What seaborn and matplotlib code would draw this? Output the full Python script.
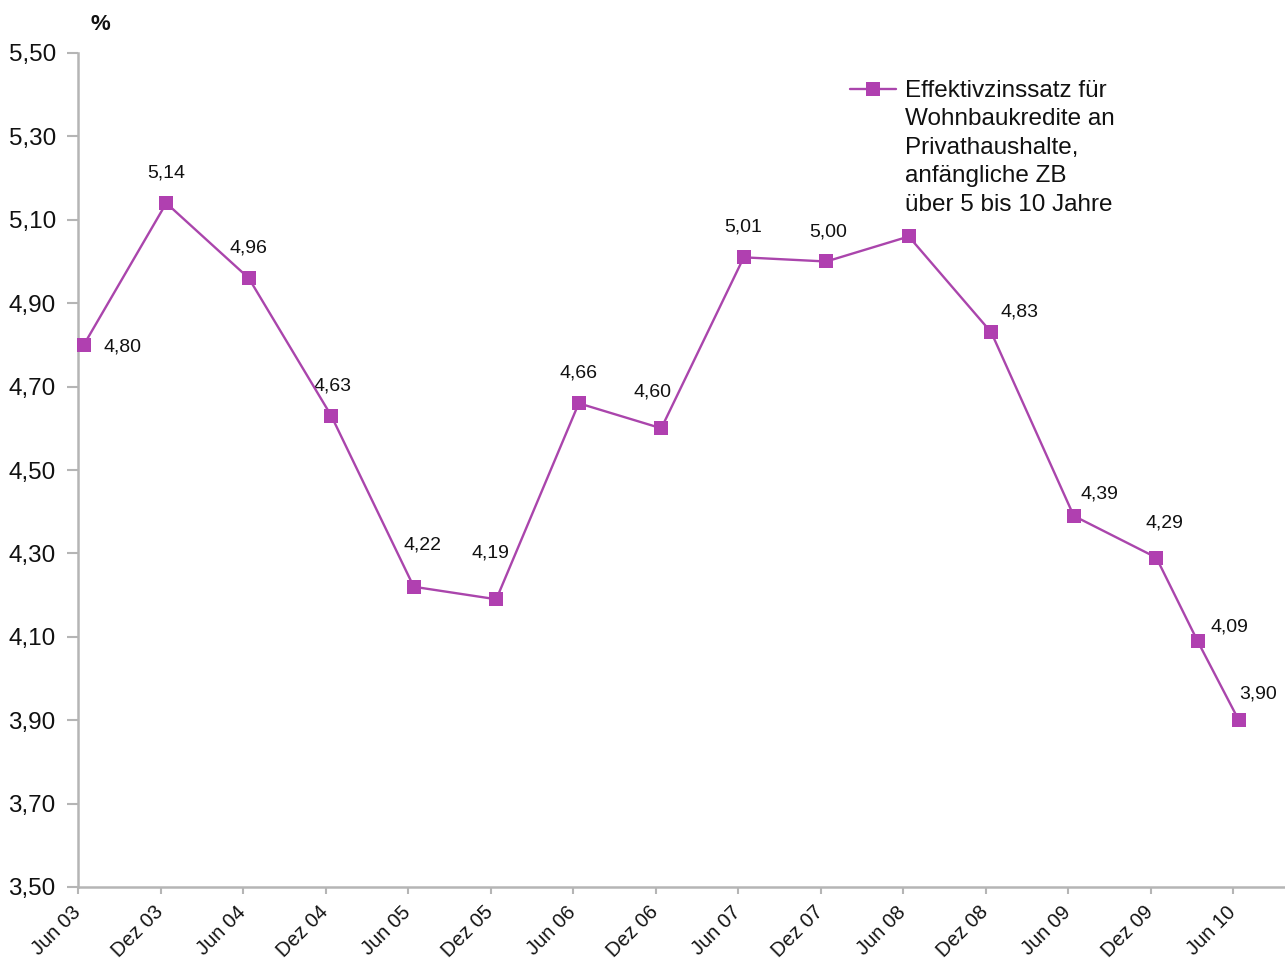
import numpy as np
import pandas as pd
import matplotlib
matplotlib.use("Agg")
import matplotlib.pyplot as plt
import seaborn as sns

# Effective interest rate for housing loans to households, initial fixation 5-10 years
periods = ["Jun 03", "Dez 03", "Jun 04", "Dez 04", "Jun 05", "Dez 05", "Jun 06",
           "Dez 06", "Jun 07", "Dez 07", "Jun 08", "Dez 08", "Jun 09", "Dez 09",
           "Mär 10", "Jun 10"]
# position on the half-year axis (Mär 10 lies between Dez 09 and Jun 10)
positions = [0, 1, 2, 3, 4, 5, 6, 7, 8, 9, 10, 11, 12, 13, 13.5, 14]
rates = [4.80, 5.14, 4.96, 4.63, 4.22, 4.19, 4.66, 4.60, 5.01, 5.00, 5.06,
         4.83, 4.39, 4.29, 4.09, 3.90]
labelled = [True, True, True, True, True, True, True, True, True, True, False,
            True, True, True, True, True]
tick_labels = ["Jun 03", "Dez 03", "Jun 04", "Dez 04", "Jun 05", "Dez 05",
               "Jun 06", "Dez 06", "Jun 07", "Dez 07", "Jun 08", "Dez 08",
               "Jun 09", "Dez 09", "Jun 10"]
y_ticks = [3.50, 3.70, 3.90, 4.10, 4.30, 4.50, 4.70, 4.90, 5.10, 5.30, 5.50]
series_name = ("Effektivzinssatz für\nWohnbaukredite an\nPrivathaushalte,\n"
               "anfängliche ZB\nüber 5 bis 10 Jahre")

# label offsets in pixels (dx, dy) relative to each marker
label_offsets = [(39, -2), (0, 30), (0, 30), (1, 30), (9, 42), (-6, 46),
                 (0, 30), (-9, 36), (-1, 30), (2, 29), (0, 0), (28, 20),
                 (26, 22), (8, 35), (32, 14), (19, 26)]

df = pd.DataFrame({"x": positions, "rate": rates})

sns.set_style("white")
plt.rcParams["font.family"] = ["Liberation Sans", "DejaVu Sans"]

fig = plt.figure(figsize=(12.85, 9.59), dpi=100)
ax = fig.add_axes([78 / 1285, 1 - 887 / 959, 1 - 78 / 1285, (887 - 53) / 959])

purple = "#AA45AC"
tick_shift = -0.07
text_color = "#111111"

sns.lineplot(data=df, x="x", y="rate", ax=ax, color=purple, linewidth=1.7,
             marker="s", markersize=10, markeredgewidth=0,
             markerfacecolor="#B040B0", label=series_name, clip_on=False,
             zorder=5)

for x, v, show, (dx, dy) in zip(positions, rates, labelled, label_offsets):
    if not show:
        continue
    ax.annotate(f"{v:.2f}".replace(".", ","), (x, v), xytext=(dx, dy),
                textcoords="offset pixels", ha="center", va="center",
                fontsize=14, color=text_color)

ax.set_xlim(tick_shift, tick_shift + (1285 - 78) / 82.5)
ax.set_ylim(3.50, 5.50)
ax.set_xticks([i + tick_shift for i in range(len(tick_labels))])
ax.set_xticklabels(tick_labels, rotation=45, ha="right", va="center",
                   rotation_mode="anchor", fontsize=14.5, color=text_color)
ax.set_yticks(y_ticks)
ax.set_yticklabels([f"{t:.2f}".replace(".", ",") for t in y_ticks],
                   fontsize=17.5, color=text_color)
ax.set_xlabel("")
ax.set_ylabel("")

for side in ["top", "right"]:
    ax.spines[side].set_visible(False)
for side in ["left", "bottom"]:
    ax.spines[side].set_color("#B5B5B5")
    ax.spines[side].set_linewidth(1.8)
ax.tick_params(axis="both", direction="out", color="#B5B5B5", width=1.5,
               bottom=True, left=True)
ax.tick_params(axis="x", length=5, pad=11)
ax.tick_params(axis="y", length=8, pad=8)

fig.text(100 / 1285, 1 - 24 / 959, "%", fontsize=16, fontweight="bold",
         ha="center", va="center", color=text_color)

leg = ax.legend(loc="upper left", bbox_to_anchor=(850 / 1285, 1 - 80 / 959),
                bbox_transform=fig.transFigure, frameon=False, fontsize=17.5,
                handlelength=1.9, handletextpad=0.37, borderpad=0,
                borderaxespad=0, labelspacing=0.2)
for t in leg.get_texts():
    t.set_color(text_color)
    t.set_linespacing(1.38)
# put the line symbol next to the first text line
for col in leg._legend_handle_box.get_children():
    for row in col.get_children():
        row.align = "top"

fig.savefig("out.png", dpi=100)
